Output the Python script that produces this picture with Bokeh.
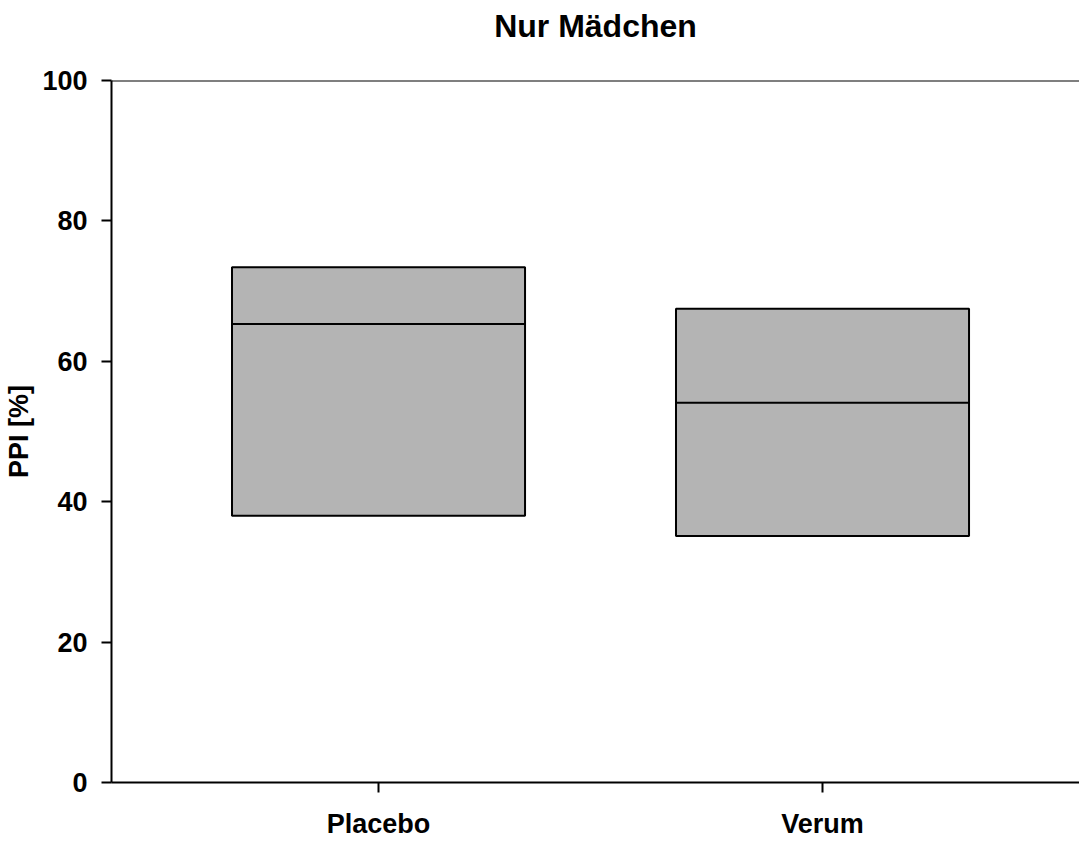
from bokeh.plotting import figure
from bokeh.models import Range1d, FixedTicker, Span, ColumnDataSource, LinearAxis
from bokeh.embed import file_html
from bokeh.resources import INLINE

# Data
title_text = "Nur Mädchen"
categories = ["Placebo", "Verum"]
q1 = [38.0, 35.1]
median = [65.3, 54.1]
q3 = [73.4, 67.5]
y_ticks = [0, 20, 40, 60, 80, 100]

positions = [i + 1 for i in range(len(categories))]
box_w = 0.66

src = ColumnDataSource(dict(
    x=positions, q1=q1, q3=q3, med=median,
    x0=[p - box_w / 2 for p in positions],
    x1=[p + box_w / 2 for p in positions],
))

FONT = "Liberation Sans"

p = figure(width=1079, height=841, output_backend="svg", toolbar_location=None,
           title_location=None,
           x_range=Range1d(0.3986, 2.5788), y_range=Range1d(0, 100),
           min_border_left=111, min_border_top=80, min_border_bottom=59,
           min_border_right=0)
p.outline_line_color = None
p.xgrid.visible = False
p.ygrid.visible = False
p.background_fill_color = "white"
p.border_fill_color = "white"

xax = p.below[0]
yax = p.left[0]

p.vbar(x="x", width=box_w, bottom="q1", top="q3", source=src,
       fill_color="#b4b4b4", line_color="black", line_width=2)
p.segment(x0="x0", x1="x1", y0="med", y1="med", source=src,
          line_color="black", line_width=2)

p.add_layout(Span(location=100, dimension="width", line_color="black", line_width=2))

for ax in (xax, yax):
    ax.axis_line_width = 2
    ax.axis_line_color = "black"
    ax.major_tick_line_width = 2
    ax.major_tick_line_color = "black"
    ax.major_tick_out = 10
    ax.major_tick_in = 0
    ax.minor_tick_line_color = None
    ax.major_label_text_font = FONT
    ax.major_label_text_font_size = "27px"
    ax.major_label_text_font_style = "bold"
    ax.major_label_text_color = "black"

yax.ticker = FixedTicker(ticks=y_ticks)
yax.major_label_standoff = 14
yax.axis_label = "PPI [%]"
yax.axis_label_text_font = FONT
yax.axis_label_text_font_size = "27px"
yax.axis_label_text_font_style = "bold"
yax.axis_label_text_color = "black"
yax.axis_label_standoff = 5

xax.ticker = FixedTicker(ticks=positions)
xax.major_label_overrides = {pos: c for pos, c in zip(positions, categories)}
xax.major_label_standoff = 16

# chart title carried by a tick-less axis above the frame
top_ax = LinearAxis(ticker=FixedTicker(ticks=[]), axis_line_color=None,
                    major_tick_line_color=None, minor_tick_line_color=None,
                    major_tick_out=0, major_tick_in=0, minor_tick_out=0,
                    minor_tick_in=0, major_label_standoff=0,
                    axis_label=title_text, axis_label_standoff=37,
                    axis_label_text_font=FONT, axis_label_text_font_size="32px",
                    axis_label_text_font_style="bold",
                    axis_label_text_color="black")
p.add_layout(top_ax, "above")

open("out.html", "w").write(file_html(p, INLINE))
